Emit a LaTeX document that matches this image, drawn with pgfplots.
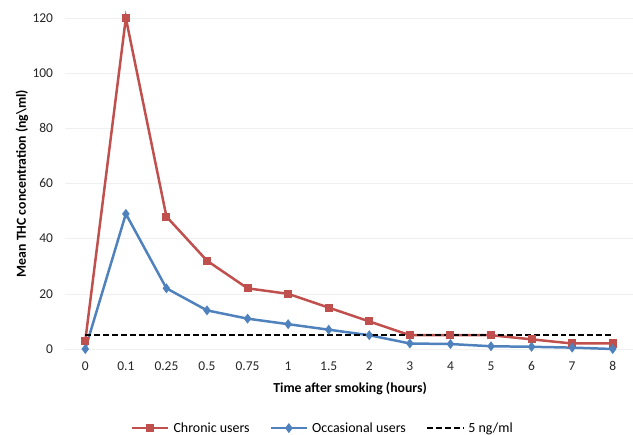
\documentclass[border=0pt]{standalone}
\usepackage{fontspec}
\setmainfont{Carlito}
\usepackage{pgfplots}
\pgfplotsset{compat=1.18}

\definecolor{chronic}{RGB}{192,80,77}
\definecolor{occas}{RGB}{79,129,189}

\begin{document}
\begin{tikzpicture}
\begin{axis}[
    scale only axis,
    width=568bp, height=331bp,
    xmin=-0.5, xmax=13.5,
    ymin=0, ymax=120,
    xtick={0,...,13},
    xticklabels={0,0.1,0.25,0.5,0.75,1,1.5,2,3,4,5,6,7,8},
    ytick={0,20,40,60,80,100,120},
    axis line style={draw=none},
    tick style={draw=none},
    ymajorgrids=true,
    grid style={gray!12, line width=0.6pt},
    tick label style={font=\fontsize{13.5}{15}\selectfont, text=black!85},
    /pgf/number format/assume math mode=true,
    xticklabel style={yshift=-9bp},
    yticklabel style={xshift=-8.5bp},
    xlabel={\textbf{Time after smoking (hours)}},
    ylabel={\textbf{Mean THC concentration (ng\textbackslash ml)}},
    label style={font=\fontsize{13.8}{16}\selectfont},
    xlabel style={at={(axis description cs:0.502,-0.121)}, anchor=center},
    ylabel style={at={(axis description cs:-0.0757,0.5)}, anchor=center},
    legend columns=3,
    legend image code/.code={
        \draw[mark repeat=2, mark phase=2, #1]
            plot coordinates {(0bp,0bp) (18bp,0bp) (36bp,0bp)};},
    legend style={at={(0.454,-0.239)}, anchor=center, draw=none,
        font=\fontsize{14}{16}\selectfont,
        /tikz/every even column/.append style={column sep=18bp},
        /tikz/every odd column/.append style={column sep=2bp}},
    legend cell align=left,
    clip=false,
]
\addplot[color=chronic, line width=2.5pt, mark=square*, mark size=2.8pt,
    mark options={solid, fill=chronic}]
    coordinates {
    (0,3)(1,120)(2,48)(3,32)(4,22)(5,20)(6,15)(7,10)
    (8,5)(9,5)(10,5)(11,3.5)(12,2)(13,2)
    };
\addlegendentry{Chronic users}

\addplot[color=occas, line width=2.5pt, mark=diamond*, mark size=3pt,
    mark options={solid, fill=occas}]
    coordinates {
    (0,0)(1,49)(2,22)(3,14)(4,11)(5,9)(6,7)(7,5)
    (8,2)(9,1.8)(10,1)(11,0.8)(12,0.5)(13,0)
    };
\addlegendentry{Occasional users}

\addplot[color=black, line width=2.5pt, dash pattern=on 6pt off 3pt, mark=none]
    coordinates {(0,5)(13,5)};
\addlegendentry{5 ng/ml}
\end{axis}
\pgfresetboundingbox
\path (-65bp,-86bp) rectangle (568bp,349bp);
\end{tikzpicture}
\end{document}
